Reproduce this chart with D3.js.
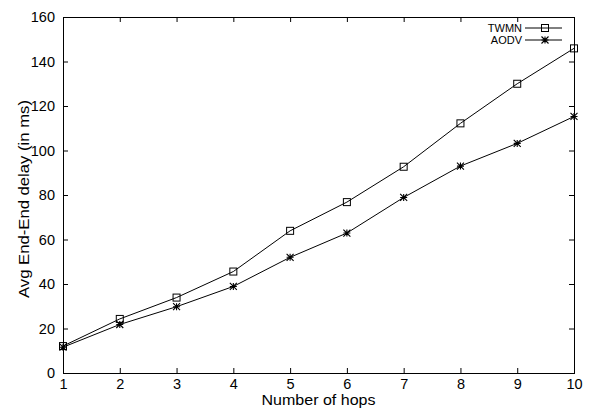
<!DOCTYPE html>
<html>
<head>
<meta charset="utf-8">
<script src="https://cdn.jsdelivr.net/npm/d3@7"></script>
<style>
  html, body { margin: 0; padding: 0; background: #fff; }
  svg { display: block; }
  text { font-family: "Liberation Sans", Arial, Helvetica, sans-serif; fill: #000; }
</style>
</head>
<body>
<svg id="chart" width="592" height="409"></svg>
<script>
// Hop counts and average end-to-end delay (ms) per protocol
const hops = [1, 2, 3, 4, 5, 6, 7, 8, 9, 10];
const twmnDelay = [12.1, 24.3, 33.9, 45.6, 63.9, 76.8, 92.7, 112.2, 130.0, 145.9];
const aodvDelay = [11.6, 21.8, 29.8, 38.9, 52.0, 62.9, 78.9, 93.0, 103.2, 115.3];
const xTicks = [1, 2, 3, 4, 5, 6, 7, 8, 9, 10];
const yTicks = [0, 20, 40, 60, 80, 100, 120, 140, 160];
const seriesNames = ["TWMN", "AODV"];

const svg = d3.select("#chart");
const plotLeft = 63, plotRight = 574, plotTop = 17, plotBottom = 373;

const x = d3.scaleLinear().domain([1, 10]).range([plotLeft, plotRight]);
const y = d3.scaleLinear().domain([0, 160]).range([plotBottom, plotTop]);

const tickLen = 5;

// Axes: ticks point inward and are mirrored on the opposite side
const axisBottom = d3.axisBottom(x).tickValues(xTicks).tickSize(-tickLen).tickPadding(5.5).tickFormat(d3.format("d"));
const axisTop = d3.axisTop(x).tickValues(xTicks).tickSize(-tickLen).tickFormat("");
const axisLeft = d3.axisLeft(y).tickValues(yTicks).tickSize(-tickLen).tickPadding(8).tickFormat(d3.format("d"));
const axisRight = d3.axisRight(y).tickValues(yTicks).tickSize(-tickLen).tickFormat("");

function styleAxis(g) {
  g.select(".domain").remove();
  g.selectAll(".tick line").attr("stroke", "#000").attr("stroke-width", 1);
  g.selectAll(".tick text").attr("font-size", 14.5)
    .style("font-family", '"Liberation Sans", Arial, sans-serif').attr("fill", "#000");
}

const gb = svg.append("g").attr("transform", `translate(0,${plotBottom})`).call(axisBottom).call(styleAxis);
gb.selectAll(".tick text").attr("dy", "0.71em");
svg.append("g").attr("transform", `translate(0,${plotTop})`).call(axisTop).call(styleAxis);
svg.append("g").attr("transform", `translate(${plotLeft},0)`).call(axisLeft).call(styleAxis);
svg.append("g").attr("transform", `translate(${plotRight},0)`).call(axisRight).call(styleAxis);

// Frame
svg.append("rect")
  .attr("x", plotLeft + 0.5).attr("y", plotTop + 0.5)
  .attr("width", plotRight - plotLeft).attr("height", plotBottom - plotTop)
  .attr("fill", "none").attr("stroke", "#000").attr("stroke-width", 1);

// Axis titles
svg.append("text")
  .attr("x", (plotLeft + plotRight) / 2).attr("y", 405)
  .attr("text-anchor", "middle").attr("font-size", 14)
  .attr("textLength", 114).attr("lengthAdjust", "spacingAndGlyphs")
  .text("Number of hops");

svg.append("text")
  .attr("transform", "translate(29,199) rotate(-90)")
  .attr("text-anchor", "middle").attr("font-size", 14.5)
  .attr("textLength", 198).attr("lengthAdjust", "spacingAndGlyphs")
  .text("Avg End-End delay (in ms)");

// Marker shapes
function squareMarker(g, cx, cy) {
  g.append("rect").attr("x", cx - 3.5).attr("y", cy - 3.5).attr("width", 7).attr("height", 7)
    .attr("fill", "none").attr("stroke", "#000").attr("stroke-width", 1);
}
function starMarker(g, cx, cy) {
  const r = 3.5;
  g.append("path")
    .attr("d", `M${cx - r},${cy}H${cx + r}M${cx},${cy - r}V${cy + r}M${cx - r},${cy - r}L${cx + r},${cy + r}M${cx - r},${cy + r}L${cx + r},${cy - r}`)
    .attr("stroke", "#000").attr("stroke-width", 1.1).attr("fill", "none");
}

const series = [
  { name: seriesNames[0], values: twmnDelay, marker: squareMarker },
  { name: seriesNames[1], values: aodvDelay, marker: starMarker }
];

const line = d3.line().x((d, i) => x(hops[i])).y(d => y(d));

series.forEach(s => {
  const g = svg.append("g");
  g.append("path").datum(s.values).attr("d", line)
    .attr("fill", "none").attr("stroke", "#000").attr("stroke-width", 1);
  s.values.forEach((v, i) => s.marker(g, x(hops[i]), y(v)));
});

// Legend
series.forEach((s, i) => {
  const cy = 28 + i * 12;
  const g = svg.append("g");
  g.append("text").attr("x", 522).attr("y", cy).attr("dy", "0.35em")
    .attr("text-anchor", "end").attr("font-size", 11).text(s.name);
  g.append("line").attr("x1", 525).attr("x2", 562).attr("y1", cy).attr("y2", cy)
    .attr("stroke", "#000").attr("stroke-width", 1);
  s.marker(g, 545, cy);
});
</script>
</body>
</html>
